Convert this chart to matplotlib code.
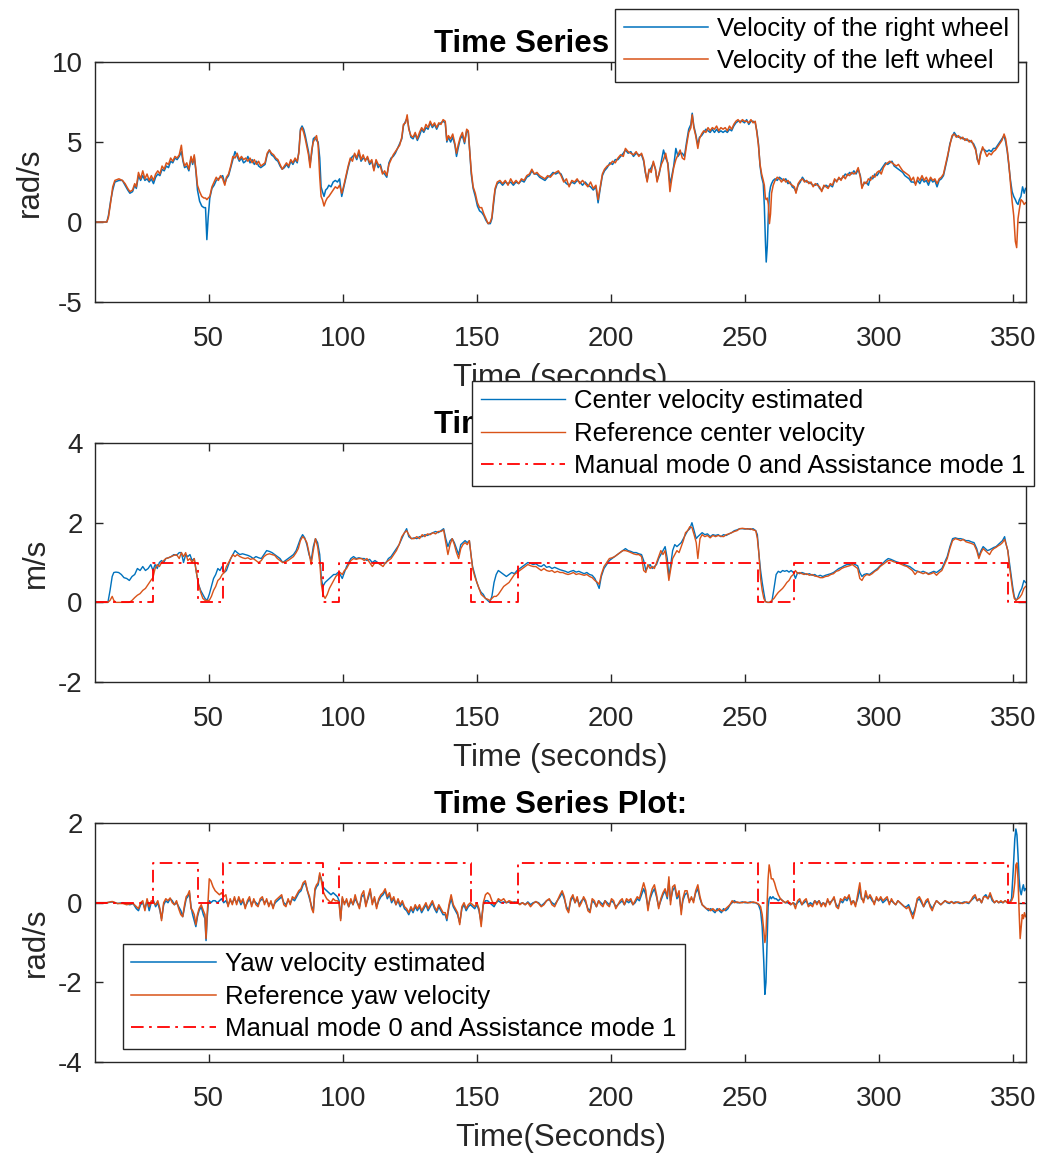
import matplotlib
matplotlib.use('Agg')
import matplotlib.pyplot as plt

plt.rcParams['font.family'] = ['Liberation Sans', 'DejaVu Sans']
plt.rcParams['axes.unicode_minus'] = False

blue = '#0072BD'
orange = '#D95319'
dark = '#262626'

# --- wheel velocities (rad/s) ---
t_wheel = [
    7.6, 12.0, 12.6, 13.4, 14.2, 15.0, 16.5, 17.8, 18.8, 19.8,
    20.6, 21.6, 22.4, 23.0, 23.8, 24.6, 25.4, 26.2, 27.0, 27.8,
    28.6, 29.4, 30.2, 31.0, 31.8, 32.6, 33.4, 34.2, 35.0, 35.8,
    36.6, 37.4, 38.2, 39.0, 39.8, 40.4, 41.0, 41.8, 42.6, 43.4,
    44.0, 44.6, 45.2, 45.8, 46.6, 47.4, 48.2, 48.8, 49.3, 49.8,
    50.4, 51.2, 52.0, 52.8, 53.6, 54.4, 55.2, 56.0, 56.6, 57.4,
    58.2, 59.0, 59.8, 60.6, 61.4, 62.2, 63.0, 63.8, 64.6, 65.4,
    66.2, 67.0, 67.8, 68.6, 69.4, 70.2, 71.0, 71.8, 72.6, 73.4,
    74.2, 75.0, 75.8, 76.6, 77.4, 78.2, 79.0, 79.8, 80.6, 81.4,
    82.2, 83.0, 83.6, 84.2, 84.8, 85.4, 86.0, 86.6, 87.2, 87.8,
    88.4, 89.0, 89.6, 90.2, 90.8, 91.4, 91.9, 92.4, 93.0, 93.6,
    94.2, 94.8, 95.6, 96.4, 97.2, 98.0, 98.8, 99.6, 100.4, 101.2,
    102.0, 102.8, 103.6, 104.4, 105.2, 106.0, 106.8, 107.6, 108.4, 109.2,
    110.0, 110.8, 111.6, 112.4, 113.2, 114.0, 114.8, 115.6, 116.4, 117.2,
    118.0, 118.8, 119.6, 120.4, 121.2, 122.0, 122.6, 123.4, 124.0, 124.6,
    125.4, 126.2, 127.0, 127.8, 128.6, 129.4, 130.2, 131.0, 131.8, 132.6,
    133.4, 134.2, 135.0, 135.8, 136.6, 137.4, 138.2, 138.8, 139.4, 140.2,
    141.0, 141.8, 142.4, 143.0, 143.8, 144.6, 145.4, 146.2, 146.8, 147.3,
    147.9, 148.6, 149.4, 150.2, 151.0, 151.8, 152.6, 153.4, 154.2, 155.0,
    155.6, 156.2, 156.8, 157.6, 158.6, 159.6, 160.6, 161.6, 162.6, 163.6,
    164.6, 165.6, 166.6, 167.6, 168.6, 169.6, 170.5, 171.4, 172.4, 173.4,
    174.4, 175.4, 176.4, 177.4, 178.4, 179.4, 180.4, 181.4, 182.4, 183.4,
    184.4, 185.4, 186.4, 187.4, 188.4, 189.4, 190.4, 191.4, 192.4, 193.4,
    194.4, 195.2, 196.0, 196.8, 197.6, 198.6, 199.6, 200.6, 201.6, 202.6,
    203.6, 204.6, 205.4, 206.4, 207.4, 208.4, 209.4, 210.4, 211.4, 212.2,
    212.8, 213.5, 214.2, 215.0, 215.8, 216.6, 217.2, 218.0, 218.8, 219.6,
    220.4, 221.2, 222.0, 222.6, 223.4, 224.2, 225.0, 225.8, 226.6, 227.4,
    228.2, 229.0, 229.8, 230.3, 230.9, 231.6, 232.4, 233.0, 233.8, 234.6,
    235.4, 236.2, 237.0, 237.8, 238.6, 239.4, 240.2, 241.0, 241.8, 242.6,
    243.4, 244.2, 245.0, 245.8, 246.6, 247.4, 248.2, 249.0, 249.8, 250.6,
    251.4, 252.2, 253.0, 253.8, 254.4, 255.0, 255.6, 256.2, 256.8, 257.2,
    257.6, 257.9, 258.3, 258.7, 259.1, 259.5, 259.9, 260.5, 261.2, 262.0,
    262.8, 263.6, 264.4, 265.2, 266.0, 266.8, 267.6, 268.4, 269.0, 269.8,
    270.6, 271.4, 272.2, 273.0, 273.8, 274.6, 275.4, 276.2, 277.0, 277.8,
    278.6, 279.4, 280.2, 281.0, 281.8, 282.6, 283.4, 284.2, 285.0, 285.8,
    286.6, 287.4, 288.2, 289.0, 289.8, 290.6, 291.4, 292.2, 293.0, 293.6,
    294.4, 295.2, 296.0, 296.8, 297.6, 298.4, 299.2, 300.0, 300.8, 301.6,
    302.4, 303.2, 304.0, 304.8, 305.6, 306.4, 307.2, 308.0, 308.8, 309.6,
    310.4, 311.2, 312.0, 312.8, 313.6, 314.4, 315.2, 316.0, 316.8, 317.6,
    318.4, 319.2, 320.0, 320.8, 321.6, 322.4, 323.2, 324.0, 324.8, 325.6,
    326.4, 327.2, 328.0, 328.8, 329.6, 330.4, 331.2, 332.0, 332.8, 333.6,
    334.4, 335.2, 336.0, 336.6, 337.2, 337.8, 338.6, 339.4, 340.2, 341.0,
    341.8, 342.6, 343.4, 344.2, 345.0, 345.8, 346.6, 347.2, 347.8, 348.4,
    349.0, 349.6, 350.2, 350.8, 351.3, 351.8, 352.3, 352.9, 353.5, 354.1,
    354.6,
]
v_left = [
    0, 0, 0.3, 1.2, 2.2, 2.6, 2.7, 2.6, 2.4, 2.1,
    1.9, 2.0, 2.4, 2.2, 3.1, 2.7, 3.2, 2.7, 3.0, 2.6,
    2.9, 2.6, 3.0, 3.2, 3.0, 3.5, 3.3, 3.7, 3.6, 4.0,
    3.8, 4.1, 4.0, 4.2, 4.8, 3.9, 3.5, 3.7, 3.3, 4.1,
    3.7, 4.2, 3.3, 2.3, 1.9, 1.6, 1.5, 1.5, 1.4, 1.5,
    1.6, 2.2, 2.5, 2.8, 2.6, 2.9, 2.7, 2.3, 2.8, 3.0,
    3.5, 4.1, 4.0, 4.3, 3.9, 4.1, 3.9, 4.0, 3.8, 4.0,
    3.7, 3.9, 3.6, 3.8, 3.5, 3.6, 3.7, 4.3, 4.5, 4.3,
    4.2, 4.0, 3.9, 3.6, 3.3, 3.5, 3.7, 3.5, 3.9, 3.7,
    4.0, 3.8, 4.3, 5.7, 5.9, 5.6, 5.2, 4.7, 4.2, 3.4,
    4.5, 5.0, 5.2, 5.4, 4.8, 2.8, 1.6, 1.4, 1.0, 1.3,
    1.5, 1.6, 1.8, 2.0, 2.2, 2.1, 2.3, 1.8, 2.3, 2.9,
    3.5, 4.0, 3.8, 4.3, 4.0, 4.5, 3.9, 4.2, 3.8, 4.1,
    3.7, 3.9, 3.2, 3.9, 3.6, 3.5, 3.0, 3.2, 2.9, 3.6,
    3.9, 4.2, 4.4, 4.6, 4.8, 5.3, 6.1, 6.2, 6.7, 5.8,
    5.4, 5.3, 5.6, 5.2, 5.6, 5.9, 5.7, 6.1, 5.9, 6.3,
    6.0, 6.2, 5.9, 6.2, 6.1, 6.4, 6.3, 5.1, 5.4, 5.2,
    5.5, 4.9, 4.3, 4.8, 5.3, 5.6, 5.0, 5.8, 5.7, 4.5,
    3.2, 2.2, 1.8, 1.2, 0.9, 0.9, 0.5, 0.2, -0.1, 0.0,
    0.3, 1.3, 2.1, 2.5, 2.6, 2.4, 2.6, 2.3, 2.7, 2.4,
    2.6, 2.4, 2.7, 2.6, 2.9, 3.0, 3.3, 3.0, 3.1, 2.9,
    2.8, 2.7, 2.9, 2.8, 3.0, 3.1, 3.2, 2.9, 2.5, 2.7,
    2.2, 2.6, 2.5, 2.7, 2.4, 2.6, 2.4, 2.2, 2.5, 2.1,
    2.3, 1.4, 2.2, 3.0, 3.3, 3.5, 3.6, 3.8, 3.7, 4.0,
    4.2, 4.1, 4.6, 4.4, 4.3, 4.2, 4.4, 4.1, 4.3, 3.9,
    3.2, 2.5, 3.3, 3.1, 3.8, 3.3, 2.5, 3.1, 3.6, 3.9,
    4.3, 3.6, 1.9, 2.6, 3.4, 3.9, 4.2, 4.5, 4.0, 3.9,
    4.8, 5.6, 5.9, 6.7, 5.9, 5.4, 4.6, 5.2, 5.5, 5.7,
    5.6, 5.9, 5.7, 5.9, 5.8, 6.0, 5.7, 5.9, 5.8, 5.9,
    5.7, 6.0, 5.8, 6.1, 6.3, 6.4, 6.2, 6.4, 6.3, 6.3,
    6.2, 6.4, 6.2, 6.3, 5.6, 4.8, 3.6, 3.0, 2.6, 2.3,
    1.5, 1.4, 1.5, 1.1, -0.1, 0.5, 1.8, 2.3, 2.6, 2.8,
    2.7, 2.5, 2.7, 2.5, 2.6, 2.4, 2.3, 2.2, 1.8, 2.4,
    2.6, 2.7, 2.5, 2.6, 2.4, 2.5, 2.2, 2.4, 2.3, 2.2,
    1.9, 2.3, 2.2, 2.1, 2.4, 2.3, 2.7, 2.5, 2.8, 2.6,
    2.9, 2.7, 3.0, 2.9, 3.1, 3.0, 3.1, 3.4, 2.8, 2.1,
    2.5, 2.4, 2.7, 2.6, 2.9, 2.8, 3.1, 3.2, 3.0, 3.4,
    3.6, 3.7, 3.8, 3.7, 3.6, 3.5, 3.6, 3.4, 3.2, 3.1,
    3.0, 2.9, 2.6, 2.8, 2.3, 2.8, 2.6, 2.9, 2.6, 2.8,
    2.5, 2.8, 2.6, 2.7, 2.4, 2.7, 2.8, 3.0, 3.6, 4.2,
    4.8, 5.4, 5.5, 5.3, 5.4, 5.2, 5.3, 5.1, 5.2, 5.0,
    5.1, 4.8, 4.5, 4.0, 3.6, 4.2, 4.7, 4.4, 4.1, 4.3,
    4.2, 4.4, 4.5, 4.7, 4.9, 5.1, 5.5, 5.2, 4.5, 3.6,
    2.4, 1.3, 0.4, -1.2, -1.6, 0.2, 0.8, 1.4, 1.3, 1.1,
    1.2,
]
v_right = [
    0, 0, 0.4, 1.3, 2.0, 2.5, 2.6, 2.6, 2.3, 2.0,
    1.8, 1.9, 2.3, 2.1, 2.9, 2.6, 2.9, 2.6, 2.7, 2.5,
    2.7, 2.4, 2.8, 3.0, 2.9, 3.3, 3.2, 3.5, 3.4, 3.8,
    3.7, 4.0, 3.9, 4.1, 4.4, 3.8, 3.4, 3.5, 3.2, 4.0,
    3.6, 4.1, 3.2, 2.0, 1.3, 1.0, 0.9, 0.9, -1.1, 0.3,
    1.5, 2.1, 2.3, 2.6, 2.7, 2.8, 2.9, 2.4, 2.7, 2.9,
    3.4, 3.9, 4.4, 4.1, 3.8, 4.0, 3.7, 3.8, 4.1, 3.7,
    3.9, 3.6, 3.8, 3.5, 3.4, 3.5, 3.6, 4.2, 4.5, 4.2,
    4.1, 3.9, 3.8, 3.5, 3.3, 3.4, 3.6, 3.4, 3.8, 3.6,
    3.9, 3.7, 4.4, 5.8, 6.0, 5.8, 5.4, 4.9, 4.4, 3.6,
    4.3, 5.2, 5.3, 5.1, 5.0, 4.0, 2.2, 1.9, 1.6, 2.0,
    2.1, 2.3, 2.2, 2.5, 2.6, 2.5, 2.7, 1.6, 2.2, 2.8,
    3.4, 3.9, 4.1, 4.2, 3.9, 4.3, 3.8, 4.0, 3.9, 4.0,
    3.6, 3.8, 3.3, 3.8, 3.4, 3.6, 3.1, 3.0, 2.8, 3.7,
    4.0, 4.1, 4.3, 4.6, 4.9, 5.2, 6.0, 6.3, 6.5, 5.9,
    5.3, 5.2, 5.5, 5.1, 5.4, 5.8, 5.6, 5.9, 5.8, 6.2,
    5.9, 6.1, 5.8, 6.1, 6.2, 6.3, 6.2, 5.0, 5.3, 5.0,
    5.3, 4.8, 4.1, 4.6, 5.2, 5.4, 4.9, 5.7, 5.6, 4.5,
    3.0, 2.1, 1.6, 1.0, 0.7, 0.6, 0.4, 0.1, -0.1, -0.1,
    0.2, 1.1, 2.0, 2.4, 2.5, 2.3, 2.5, 2.4, 2.5, 2.3,
    2.5, 2.4, 2.6, 2.5, 2.8, 2.9, 3.2, 3.0, 3.0, 2.8,
    2.7, 2.6, 2.8, 2.9, 3.1, 3.0, 3.1, 3.0, 2.6, 2.4,
    2.3, 2.5, 2.4, 2.6, 2.5, 2.3, 2.5, 2.3, 2.2, 2.0,
    2.2, 1.2, 2.1, 2.9, 3.2, 3.4, 3.7, 3.6, 3.9, 3.9,
    4.1, 4.3, 4.5, 4.3, 4.4, 4.1, 4.3, 4.2, 4.2, 3.8,
    3.1, 2.6, 3.2, 3.4, 3.7, 3.3, 2.6, 3.0, 3.8, 4.5,
    4.0, 3.7, 2.4, 2.8, 3.5, 4.6, 4.1, 4.3, 4.3, 4.1,
    5.0, 5.8, 6.1, 6.8, 6.0, 5.5, 4.8, 5.3, 5.4, 5.6,
    5.8, 5.7, 5.6, 5.8, 5.6, 5.8, 5.6, 5.7, 5.6, 5.7,
    5.6, 5.8, 5.7, 6.0, 6.2, 6.3, 6.3, 6.3, 6.2, 6.4,
    6.1, 6.3, 6.3, 6.2, 5.7, 4.9, 3.5, 2.8, 2.4, 1.0,
    -1.2, -2.5, -1.5, 0.5, 1.8, 2.2, 2.4, 2.6, 2.7, 2.6,
    2.8, 2.7, 2.6, 2.7, 2.4, 2.5, 2.2, 2.1, 1.9, 2.3,
    2.5, 2.8, 2.6, 2.5, 2.5, 2.4, 2.3, 2.3, 2.4, 2.1,
    2.0, 2.2, 2.3, 2.2, 2.3, 2.2, 2.6, 2.6, 2.7, 2.7,
    2.8, 3.0, 2.9, 3.1, 3.0, 3.2, 3.0, 3.3, 2.9, 2.2,
    2.4, 2.5, 2.3, 2.8, 2.7, 3.0, 2.9, 3.1, 3.3, 3.5,
    3.7, 3.6, 3.7, 3.8, 3.5, 3.4, 3.3, 3.2, 3.1, 2.9,
    2.8, 2.7, 2.5, 2.5, 2.4, 2.6, 2.4, 2.7, 2.5, 2.6,
    2.3, 2.7, 2.5, 2.6, 2.2, 2.6, 2.7, 2.9, 3.5, 4.1,
    4.9, 5.3, 5.6, 5.4, 5.3, 5.3, 5.2, 5.2, 5.1, 5.1,
    5.0, 4.9, 4.6, 3.9, 3.7, 4.3, 4.6, 4.5, 4.4, 4.5,
    4.4, 4.6, 4.6, 4.8, 5.0, 5.2, 5.4, 5.0, 4.4, 3.5,
    2.6, 1.9, 1.6, 1.4, 1.2, 1.1, 1.4, 1.6, 2.2, 1.8,
    2.1,
]

# --- center velocity (m/s) ---
t_center = [
    7.6, 12.4, 13.2, 14.0, 14.6, 15.4, 16.4, 17.4, 18.4, 19.4,
    20.4, 21.4, 22.4, 23.4, 24.4, 25.4, 26.4, 27.4, 28.4, 29.2,
    30.0, 30.8, 31.6, 32.4, 33.2, 34.0, 35.0, 36.0, 37.0, 38.0,
    39.0, 39.8, 40.6, 41.4, 42.2, 43.0, 43.8, 44.6, 45.4, 46.2,
    47.0, 47.8, 48.6, 49.4, 50.2, 51.0, 51.8, 52.6, 53.4, 54.2,
    55.0, 55.8, 56.6, 57.4, 58.2, 59.0, 59.8, 60.6, 61.6, 62.6,
    63.6, 64.6, 65.6, 66.6, 67.6, 68.6, 69.6, 70.6, 71.6, 72.6,
    73.6, 74.6, 75.6, 76.6, 77.6, 78.6, 79.6, 80.6, 81.6, 82.6,
    83.4, 84.2, 85.0, 85.8, 86.6, 87.4, 88.2, 89.0, 89.8, 90.6,
    91.4, 92.0, 92.6, 93.4, 94.2, 95.0, 95.8, 96.6, 97.4, 98.2,
    99.0, 99.8, 100.6, 101.4, 102.2, 103.0, 104.0, 105.0, 106.0, 107.0,
    108.0, 109.0, 110.0, 111.0, 112.0, 113.0, 114.0, 115.0, 116.0, 117.0,
    118.0, 119.0, 120.0, 121.0, 122.0, 123.0, 123.8, 124.6, 125.6, 126.6,
    127.6, 128.6, 129.6, 130.6, 131.6, 132.6, 133.6, 134.6, 135.6, 136.6,
    137.6, 138.4, 139.2, 140.0, 140.8, 141.6, 142.4, 143.2, 144.0, 144.8,
    145.6, 146.4, 147.2, 147.8, 148.4, 149.2, 150.0, 150.8, 151.6, 152.4,
    153.2, 154.0, 154.8, 155.6, 156.4, 157.2, 158.0, 159.0, 160.0, 161.0,
    162.0, 163.0, 164.0, 165.0, 166.0, 167.0, 168.0, 169.0, 170.0, 171.0,
    172.0, 173.0, 174.0, 175.0, 176.0, 177.0, 178.0, 179.0, 180.0, 181.0,
    182.0, 183.0, 184.0, 185.0, 186.0, 187.0, 188.0, 189.0, 190.0, 191.0,
    192.0, 193.0, 194.0, 195.0, 195.6, 196.4, 197.4, 198.4, 199.4, 200.4,
    201.4, 202.4, 203.4, 204.4, 205.4, 206.4, 207.4, 208.4, 209.4, 210.4,
    211.4, 212.2, 213.0, 213.8, 214.6, 215.4, 216.2, 217.0, 217.8, 218.6,
    219.4, 220.2, 221.0, 221.6, 222.2, 223.0, 223.8, 224.6, 225.4, 226.2,
    227.0, 227.8, 228.6, 229.4, 230.2, 231.0, 231.8, 232.4, 233.2, 234.0,
    235.0, 236.0, 237.0, 238.0, 239.0, 240.0, 241.0, 242.0, 243.0, 244.0,
    245.0, 246.0, 247.0, 248.0, 249.0, 250.0, 251.0, 252.0, 253.0, 254.0,
    254.6, 255.2, 255.8, 256.4, 257.0, 257.6, 258.4, 259.2, 260.0, 260.8,
    261.6, 262.4, 263.2, 264.0, 264.8, 265.6, 266.4, 267.2, 268.0, 268.8,
    269.6, 270.4, 271.2, 272.0, 273.0, 274.0, 275.0, 276.0, 277.0, 278.0,
    279.0, 280.0, 281.0, 282.0, 283.0, 284.0, 285.0, 286.0, 287.0, 288.0,
    289.0, 290.0, 291.0, 292.0, 292.8, 293.6, 294.4, 295.4, 296.4, 297.4,
    298.4, 299.4, 300.4, 301.4, 302.4, 303.4, 304.4, 305.4, 306.4, 307.4,
    308.4, 309.4, 310.4, 311.4, 312.4, 313.4, 314.4, 315.4, 316.4, 317.4,
    318.4, 319.4, 320.4, 321.4, 322.4, 323.4, 324.4, 325.4, 326.4, 327.4,
    328.4, 329.4, 330.4, 331.4, 332.4, 333.4, 334.4, 335.4, 336.4, 337.2,
    338.0, 338.8, 339.6, 340.4, 341.2, 342.0, 342.8, 343.6, 344.4, 345.2,
    346.0, 346.8, 347.4, 348.0, 348.6, 349.2, 349.8, 350.4, 351.0, 351.6,
    352.4, 353.2, 354.0, 354.6,
]
v_center_est = [
    0, 0, 0.3, 0.65, 0.75, 0.76, 0.75, 0.7, 0.62, 0.6,
    0.55, 0.65, 0.7, 0.85, 0.8, 0.9, 0.8, 0.85, 0.95, 0.8,
    0.95, 0.85, 1.0, 1.05, 1.0, 1.1, 1.12, 1.15, 1.2, 1.18,
    1.25, 1.25, 1.0, 1.2, 1.15, 1.2, 1.05, 1.1, 0.75, 0.45,
    0.3, 0.2, 0.1, 0.05, 0.2, 0.4, 0.6, 0.7, 0.85, 0.8,
    0.9, 0.75, 0.8, 0.95, 1.1, 1.2, 1.3, 1.25, 1.2, 1.22,
    1.2, 1.18, 1.15, 1.1, 1.15, 1.12, 1.1, 1.2, 1.3, 1.28,
    1.25, 1.2, 1.15, 1.1, 1.0, 1.05, 1.1, 1.15, 1.2, 1.3,
    1.45, 1.6, 1.7, 1.62, 1.45, 1.2, 1.05, 1.4, 1.6, 1.5,
    1.2, 0.6, 0.4, 0.5, 0.55, 0.6, 0.65, 0.7, 0.7, 0.75,
    0.7, 0.6, 0.75, 0.9, 1.0, 1.1, 1.15, 1.1, 1.12, 1.1,
    1.1, 1.05, 1.08, 1.0, 1.05, 1.0, 0.95, 1.0, 0.98, 1.1,
    1.15, 1.25, 1.35, 1.45, 1.6, 1.75, 1.85, 1.65, 1.6, 1.62,
    1.6, 1.65, 1.65, 1.7, 1.68, 1.72, 1.75, 1.78, 1.75, 1.8,
    1.85, 1.6, 1.4, 1.55, 1.6, 1.5, 1.35, 1.2, 1.45, 1.5,
    1.55, 1.5, 1.55, 1.2, 0.9, 0.7, 0.5, 0.35, 0.25, 0.2,
    0.1, 0.05, 0.0, 0.15, 0.5, 0.7, 0.8, 0.75, 0.7, 0.65,
    0.7, 0.75, 0.72, 0.8, 0.85, 0.9, 0.95, 1.0, 0.98, 0.95,
    0.97, 0.92, 0.9, 0.95, 0.88, 0.9, 0.85, 0.88, 0.85, 0.82,
    0.8, 0.78, 0.75, 0.78, 0.8, 0.76, 0.78, 0.75, 0.72, 0.75,
    0.7, 0.68, 0.6, 0.45, 0.35, 0.65, 0.85, 0.95, 1.05, 1.1,
    1.15, 1.2, 1.25, 1.3, 1.35, 1.3, 1.28, 1.25, 1.25, 1.22,
    1.2, 1.05, 0.8, 0.9, 0.95, 0.85, 0.9, 0.95, 1.1, 1.2,
    1.3, 1.4, 1.1, 0.65, 0.9, 1.3, 1.45, 1.4, 1.45, 1.5,
    1.6, 1.7, 1.8, 1.85, 2.0, 1.8, 1.6, 1.65, 1.7, 1.75,
    1.7, 1.72, 1.65, 1.7, 1.68, 1.7, 1.65, 1.7, 1.68, 1.72,
    1.75, 1.8, 1.82, 1.85, 1.85, 1.84, 1.85, 1.83, 1.85, 1.8,
    1.7, 1.2, 0.8, 0.5, 0.25, 0.02, 0.0, 0.0, 0.02, 0.35,
    0.7, 0.78, 0.75, 0.8, 0.78, 0.8, 0.76, 0.8, 0.75, 0.6,
    0.75, 0.72, 0.75, 0.73, 0.7, 0.72, 0.68, 0.7, 0.65, 0.68,
    0.65, 0.68, 0.7, 0.72, 0.75, 0.8, 0.85, 0.88, 0.92, 0.95,
    0.95, 0.98, 0.95, 0.92, 0.75, 0.65, 0.7, 0.72, 0.7, 0.75,
    0.8, 0.85, 0.92, 0.98, 1.05, 1.1, 1.08, 1.05, 1.02, 1.0,
    0.98, 0.95, 0.92, 0.9, 0.85, 0.8, 0.78, 0.75, 0.78, 0.75,
    0.72, 0.75, 0.78, 0.75, 0.8, 0.85, 1.0, 1.15, 1.4, 1.6,
    1.62, 1.6, 1.6, 1.58, 1.55, 1.55, 1.52, 1.5, 1.35, 1.15,
    1.3, 1.4, 1.35, 1.3, 1.32, 1.35, 1.38, 1.4, 1.45, 1.5,
    1.55, 1.65, 1.45, 1.3, 1.0, 0.7, 0.4, 0.15, 0.05, 0.1,
    0.25, 0.35, 0.55, 0.5,
]
v_center_ref = [
    0, 0, 0.05, 0.15, 0.05, 0, 0, 0, 0, 0,
    0, 0.05, 0.12, 0.18, 0.22, 0.3, 0.35, 0.45, 0.55, 0.62,
    0.85, 0.95, 0.9, 1.0, 1.05, 1.1, 1.12, 1.15, 1.18, 1.2,
    1.1, 1.25, 1.15, 1.25, 1.05, 1.1, 1.0, 1.1, 0.75, 0.45,
    0.25, 0.1, 0.05, 0.05, 0.05, 0.15, 0.3, 0.4, 0.55, 0.6,
    0.7, 0.75, 0.9, 1.0, 1.1, 1.2, 1.15, 1.2, 1.15, 1.12,
    1.1, 1.12, 1.08, 1.1, 1.05, 1.0, 1.05, 1.15, 1.2, 1.22,
    1.2, 1.18, 1.1, 1.05, 1.0, 1.02, 1.05, 1.1, 1.15, 1.25,
    1.35, 1.55, 1.65, 1.6, 1.5, 1.25, 0.95, 1.3, 1.6, 1.4,
    1.0, 0.45, 0.2, 0.1, 0.2, 0.35, 0.45, 0.55, 0.65, 0.7,
    0.75, 0.7, 0.8, 0.85, 0.95, 1.05, 1.1, 1.08, 1.1, 1.1,
    1.05, 1.1, 1.0, 0.9, 1.0, 1.0, 0.95, 0.9, 1.0, 1.05,
    1.1, 1.2, 1.3, 1.45, 1.65, 1.75, 1.8, 1.7, 1.6, 1.6,
    1.65, 1.6, 1.7, 1.65, 1.72, 1.7, 1.75, 1.72, 1.78, 1.78,
    1.82, 1.5, 1.2, 1.45, 1.6, 1.45, 1.25, 1.1, 1.35, 1.45,
    1.5, 1.45, 1.55, 1.2, 0.85, 0.65, 0.5, 0.35, 0.2, 0.15,
    0.1, 0.08, 0.05, 0.1, 0.15, 0.15, 0.2, 0.3, 0.4, 0.45,
    0.5, 0.6, 0.7, 0.75, 0.8, 0.85, 0.9, 0.95, 0.92, 0.9,
    0.9, 0.85, 0.8, 0.85, 0.8, 0.78, 0.8, 0.75, 0.78, 0.75,
    0.75, 0.72, 0.7, 0.72, 0.75, 0.7, 0.72, 0.7, 0.68, 0.7,
    0.65, 0.62, 0.55, 0.5, 0.45, 0.7, 0.9, 1.0, 1.1, 1.12,
    1.15, 1.2, 1.25, 1.3, 1.3, 1.28, 1.25, 1.22, 1.2, 1.2,
    1.15, 0.8, 0.75, 0.95, 0.85, 0.9, 0.85, 1.0, 1.15, 1.3,
    1.2, 1.3, 0.9, 0.55, 0.8, 1.1, 1.2, 1.3, 1.25, 1.4,
    1.55, 1.75, 1.8, 1.9, 1.88, 1.7, 1.5, 1.1, 1.6, 1.7,
    1.65, 1.68, 1.62, 1.68, 1.65, 1.68, 1.66, 1.65, 1.7, 1.72,
    1.75, 1.78, 1.8, 1.85, 1.86, 1.85, 1.84, 1.85, 1.82, 1.8,
    1.6, 1.2, 0.6, 0.3, 0.1, 0.02, 0.0, 0.0, 0.05, 0.1,
    0.18, 0.25, 0.3, 0.35, 0.42, 0.5, 0.55, 0.65, 0.7, 0.8,
    0.72, 0.75, 0.72, 0.7, 0.72, 0.68, 0.7, 0.66, 0.65, 0.62,
    0.62, 0.65, 0.66, 0.7, 0.72, 0.78, 0.8, 0.85, 0.88, 0.9,
    0.92, 0.95, 0.9, 0.85, 0.6, 0.55, 0.65, 0.7, 0.68, 0.72,
    0.78, 0.82, 0.9, 0.95, 1.0, 1.05, 1.05, 1.02, 1.0, 0.98,
    0.95, 0.92, 0.9, 0.85, 0.8, 0.7, 0.78, 0.75, 0.72, 0.75,
    0.7, 0.72, 0.75, 0.68, 0.75, 0.8, 0.95, 1.1, 1.35, 1.55,
    1.6, 1.58, 1.55, 1.58, 1.52, 1.5, 1.48, 1.45, 1.3, 1.1,
    1.25, 1.35, 1.3, 1.25, 1.2, 1.3, 1.35, 1.38, 1.42, 1.45,
    1.5, 1.58, 1.45, 1.3, 0.9, 0.6, 0.3, 0.1, 0.05, 0.08,
    0.12, 0.2, 0.35, 0.4,
]

# --- yaw velocity (rad/s) ---
t_yaw = [
    7.6, 12.0, 14.0, 16.0, 18.0, 19.4, 20.6, 21.8, 23.0, 23.8,
    24.6, 25.4, 26.2, 27.0, 27.8, 28.6, 29.4, 30.2, 31.0, 31.8,
    32.4, 33.2, 34.0, 34.8, 35.6, 36.4, 37.2, 38.0, 38.8, 39.6,
    40.3, 41.0, 41.6, 42.2, 42.8, 43.4, 44.0, 44.6, 45.2, 45.8,
    46.4, 47.2, 48.0, 48.6, 49.0, 49.4, 49.8, 50.2, 50.8, 51.6,
    52.4, 53.2, 54.0, 54.8, 55.6, 56.4, 57.2, 58.0, 58.8, 59.6,
    60.4, 61.2, 62.0, 62.8, 63.6, 64.4, 65.2, 66.0, 66.8, 67.6,
    68.4, 69.2, 70.0, 70.8, 71.6, 72.4, 73.2, 74.0, 74.8, 75.6,
    76.4, 77.2, 78.0, 78.8, 79.6, 80.4, 81.2, 82.0, 82.8, 83.6,
    84.4, 85.2, 86.0, 86.8, 87.6, 88.4, 89.0, 89.6, 90.2, 90.8,
    91.4, 92.0, 92.6, 93.2, 94.0, 94.8, 95.6, 96.4, 97.2, 98.0,
    98.6, 99.2, 99.8, 100.6, 101.4, 102.2, 103.0, 103.8, 104.6, 105.4,
    106.2, 107.0, 107.8, 108.6, 109.4, 110.2, 111.0, 111.8, 112.6, 113.4,
    114.2, 115.0, 115.8, 116.6, 117.4, 118.2, 119.0, 119.8, 120.6, 121.4,
    122.2, 123.0, 123.8, 124.6, 125.4, 126.2, 127.0, 127.8, 128.6, 129.4,
    130.2, 131.0, 131.8, 132.6, 133.4, 134.2, 135.0, 135.8, 136.6, 137.4,
    138.2, 138.8, 139.6, 140.4, 141.2, 142.0, 142.8, 143.6, 144.4, 145.2,
    146.0, 146.8, 147.6, 148.4, 149.2, 150.0, 150.8, 151.6, 152.4, 153.2,
    154.0, 154.8, 155.6, 156.4, 157.2, 158.0, 159.0, 160.0, 161.0, 162.0,
    163.0, 164.0, 165.0, 166.0, 167.0, 168.0, 169.0, 170.0, 171.0, 172.0,
    173.0, 174.0, 175.0, 176.0, 177.0, 178.0, 179.0, 180.0, 181.0, 181.8,
    182.6, 183.4, 184.2, 185.0, 185.8, 186.6, 187.4, 188.2, 189.0, 189.8,
    190.6, 191.4, 192.2, 193.0, 193.8, 194.6, 195.4, 196.2, 197.0, 197.8,
    198.6, 199.4, 200.2, 201.0, 201.8, 202.6, 203.4, 204.2, 205.0, 205.8,
    206.6, 207.4, 208.2, 209.0, 209.8, 210.6, 211.4, 212.2, 213.0, 213.8,
    214.6, 215.4, 216.2, 217.0, 217.8, 218.6, 219.4, 220.2, 221.0, 221.6,
    222.2, 223.0, 223.8, 224.6, 225.4, 226.2, 226.8, 227.6, 228.4, 229.2,
    230.0, 230.8, 231.6, 232.4, 233.2, 234.0, 234.8, 235.6, 236.4, 237.2,
    238.0, 238.8, 239.6, 240.4, 241.2, 242.0, 242.8, 243.6, 244.4, 245.2,
    246.0, 247.0, 248.0, 249.0, 250.0, 251.0, 252.0, 253.0, 254.0, 255.0,
    255.8, 256.4, 257.0, 257.4, 257.8, 258.2, 258.6, 259.0, 259.4, 259.8,
    260.4, 261.0, 261.6, 262.4, 263.2, 264.0, 265.0, 266.0, 267.0, 268.0,
    268.8, 269.6, 270.4, 271.2, 272.0, 272.8, 273.6, 274.4, 275.2, 276.0,
    276.8, 277.6, 278.4, 279.2, 280.0, 280.8, 281.6, 282.4, 283.2, 284.0,
    284.8, 285.6, 286.4, 287.2, 288.0, 288.8, 289.6, 290.4, 291.2, 292.0,
    292.8, 293.4, 294.2, 295.0, 295.8, 296.6, 297.4, 298.2, 299.0, 299.8,
    300.6, 301.4, 302.2, 303.0, 303.8, 304.6, 305.4, 306.2, 307.0, 307.8,
    308.6, 309.4, 310.2, 311.0, 311.8, 312.6, 313.4, 314.2, 315.0, 315.8,
    316.6, 317.4, 318.2, 319.0, 319.8, 320.6, 321.4, 322.2, 323.0, 323.8,
    324.6, 325.4, 326.2, 327.0, 327.8, 328.6, 329.4, 330.2, 331.0, 331.8,
    332.6, 333.4, 334.2, 335.0, 335.8, 336.6, 337.4, 338.2, 339.0, 339.8,
    340.6, 341.4, 342.2, 343.0, 343.8, 344.6, 345.4, 346.2, 347.0, 347.8,
    348.6, 349.4, 350.0, 350.6, 351.0, 351.4, 351.8, 352.2, 352.6, 353.0,
    353.4, 353.8, 354.2, 354.6,
]
w_yaw_est = [
    0, 0, 0.02, -0.02, 0.0, -0.03, -0.05, -0.02, -0.15, -0.2,
    -0.05, 0.0, -0.15, 0.05, -0.2, 0.02, 0.05, -0.1, 0.0, -0.2,
    -0.4, -0.05, 0.05, 0.0, 0.1, 0.05, -0.05, 0.0, -0.1, -0.2,
    -0.35, -0.1, 0.1, 0.15, 0.25, -0.1, -0.3, -0.45, -0.6, -0.35,
    -0.2, -0.1, -0.3, -0.4, -0.95, -0.4, -0.05, 0.05, 0.0, 0.05,
    0.05, 0.0, 0.05, 0.1, 0.0, 0.05, -0.05, 0.05, 0.0, 0.1,
    0.0, 0.1, -0.05, 0.05, -0.1, 0.0, 0.1, -0.05, 0.05, 0.0,
    -0.05, 0.05, 0.1, 0.0, 0.05, -0.05, 0.0, -0.1, 0.0, 0.05,
    0.1, 0.15, 0.0, -0.05, 0.05, 0.0, 0.1, 0.05, 0.15, 0.25,
    0.3, 0.45, 0.5, 0.3, 0.1, -0.1, -0.2, 0.3, 0.4, 0.45,
    0.7, 0.6, 0.4, 0.35, 0.3, 0.25, 0.2, 0.25, 0.2, 0.15,
    0.05, -0.4, 0.1, 0.0, 0.05, -0.1, 0.05, -0.05, 0.1, 0.0,
    -0.1, 0.15, 0.2, -0.05, 0.1, 0.3, 0.0, 0.1, -0.1, 0.05,
    0.15, 0.2, 0.3, 0.1, 0.2, 0.0, 0.1, -0.05, 0.05, -0.1,
    0.0, -0.15, -0.2, -0.3, -0.15, -0.25, -0.1, -0.2, -0.1, -0.25,
    -0.15, -0.05, -0.2, -0.1, 0.0, -0.15, -0.25, -0.1, -0.2, -0.3,
    -0.3, -0.45, -0.1, 0.1, -0.1, -0.2, -0.3, -0.5, -0.15, -0.05,
    -0.2, -0.1, -0.05, -0.1, -0.15, -0.05, -0.2, -0.5, -0.05, 0.05,
    0.05, 0.0, -0.05, -0.1, 0.0, 0.05, 0.0, 0.02, 0.0, 0.02,
    0.0, 0.02, 0.0, -0.03, 0.0, -0.05, 0.02, -0.05, 0.0, 0.02,
    0.0, -0.08, -0.02, 0.05, 0.08, 0.0, -0.05, 0.05, 0.15, 0.25,
    0.1, -0.1, -0.2, 0.05, 0.15, 0.0, 0.1, -0.05, 0.05, 0.1,
    0.0, -0.15, -0.2, 0.05, 0.0, -0.1, 0.05, 0.0, -0.05, 0.05,
    0.0, -0.05, 0.05, 0.0, -0.1, -0.05, 0.0, 0.05, -0.05, 0.05,
    0.0, 0.05, -0.05, 0.0, 0.1, 0.05, 0.2, 0.35, 0.2, -0.1,
    0.1, 0.25, 0.35, 0.15, -0.1, 0.05, 0.2, 0.3, 0.1, 0.55,
    0.05, 0.3, 0.4, 0.1, 0.2, -0.2, 0.05, 0.2, 0.25, 0.05,
    0.1, 0.05, 0.25, 0.35, 0.1, -0.05, -0.1, -0.15, -0.2, -0.15,
    -0.2, -0.25, -0.15, -0.2, -0.25, -0.15, -0.2, -0.15, -0.05, 0.0,
    0.05, 0.0, 0.0, 0.02, 0.0, 0.0, 0.02, 0.0, 0.0, -0.05,
    -0.2, -0.6, -1.5, -2.3, -2.0, -1.0, -0.1, 0.1, 0.15, 0.1,
    0.15, 0.1, 0.1, 0.05, 0.1, 0.05, 0.0, 0.0, -0.05, 0.0,
    -0.05, 0.0, 0.05, -0.05, 0.0, 0.05, -0.05, 0.0, -0.05, 0.05,
    0.0, 0.05, -0.05, 0.0, -0.05, 0.05, 0.0, 0.05, 0.1, -0.05,
    -0.1, 0.05, 0.0, 0.1, 0.05, 0.15, 0.0, 0.05, -0.05, 0.1,
    0.35, 0.1, 0.05, 0.2, 0.1, 0.15, 0.05, 0.0, 0.1, 0.05,
    0.1, 0.0, 0.05, 0.1, 0.0, 0.05, 0.0, -0.05, 0.05, 0.0,
    -0.05, -0.1, -0.1, -0.05, -0.2, -0.3, -0.15, 0.05, 0.1, 0.0,
    -0.1, 0.0, 0.05, -0.05, -0.15, -0.05, 0.05, 0.0, -0.05, 0.0,
    0.05, 0.0, -0.02, 0.02, 0.0, 0.02, 0.0, -0.02, 0.0, 0.02,
    0.0, -0.02, 0.05, 0.1, 0.15, 0.05, 0.1, 0.0, 0.15, 0.2,
    0.1, 0.2, 0.05, 0.0, 0.05, 0.0, 0.02, 0.0, 0.05, 0.0,
    0.0, 0.1, 0.8, 1.6, 1.85, 1.7, 1.2, 0.6, 0.3, 0.2,
    0.35, 0.45, 0.3, 0.35,
]
w_yaw_ref = [
    0, 0, 0.03, -0.02, -0.02, -0.05, -0.03, -0.02, -0.1, -0.15,
    0.0, 0.05, -0.2, 0.1, -0.1, 0.05, 0.0, -0.05, 0.05, -0.15,
    -0.45, 0.0, 0.1, 0.05, 0.12, 0.0, -0.05, 0.05, -0.15, -0.3,
    -0.35, -0.05, 0.15, 0.2, 0.3, -0.15, -0.2, -0.3, -0.55, -0.3,
    -0.15, -0.05, -0.2, -0.3, -0.9, -0.3, 0.1, 0.6, 0.55, 0.4,
    0.3, 0.25, 0.2, 0.25, 0.15, 0.2, -0.1, 0.1, -0.05, 0.15,
    -0.05, 0.15, 0.0, 0.1, -0.15, 0.05, 0.15, -0.1, 0.1, -0.05,
    -0.1, 0.1, 0.15, -0.05, 0.1, -0.1, 0.05, -0.15, 0.05, 0.1,
    0.15, 0.2, -0.05, -0.1, 0.1, -0.05, 0.15, 0.1, 0.2, 0.3,
    0.35, 0.5, 0.55, 0.3, 0.15, -0.15, -0.25, 0.35, 0.45, 0.5,
    0.75, 0.55, 0.3, 0.2, 0.1, 0.05, 0.0, 0.1, 0.05, 0.05,
    0.0, -0.45, 0.15, -0.05, 0.1, -0.1, 0.1, -0.05, 0.2, 0.0,
    -0.15, 0.2, 0.3, -0.1, 0.15, 0.35, -0.05, 0.15, -0.15, 0.1,
    0.2, 0.25, 0.35, 0.15, 0.25, 0.05, 0.15, -0.05, 0.1, -0.05,
    0.05, -0.1, -0.15, -0.25, -0.1, -0.2, -0.05, -0.15, -0.05, -0.2,
    -0.1, 0.0, -0.15, -0.05, 0.05, -0.1, -0.2, -0.05, -0.15, -0.25,
    -0.25, -0.4, -0.05, 0.2, -0.05, -0.15, -0.25, -0.55, -0.1, 0.0,
    -0.15, -0.05, 0.0, -0.05, -0.1, 0.0, -0.15, -0.6, 0.0, 0.2,
    0.25, 0.2, 0.05, -0.05, 0.0, 0.1, 0.05, 0.1, 0.0, 0.05,
    0.02, 0.0, 0.02, -0.05, 0.0, -0.05, 0.0, -0.1, -0.02, 0.03,
    -0.02, -0.1, -0.05, 0.05, 0.1, -0.05, -0.1, 0.05, 0.2, 0.3,
    0.15, -0.15, -0.25, 0.1, 0.2, 0.0, 0.15, -0.1, 0.0, 0.15,
    0.05, -0.2, -0.25, 0.1, 0.05, -0.1, 0.05, -0.05, -0.1, 0.05,
    -0.05, -0.1, 0.1, 0.05, -0.15, -0.05, 0.05, 0.1, -0.05, 0.1,
    0.05, 0.1, -0.05, 0.05, 0.15, 0.1, 0.3, 0.5, 0.3, -0.2,
    0.15, 0.35, 0.45, 0.2, -0.15, 0.1, 0.25, 0.35, 0.15, 0.65,
    -0.05, 0.4, 0.45, 0.15, 0.3, -0.3, 0.1, 0.3, 0.3, 0.0,
    0.15, 0.0, 0.3, 0.45, 0.15, -0.05, -0.1, -0.15, -0.15, -0.2,
    -0.15, -0.2, -0.2, -0.15, -0.2, -0.2, -0.15, -0.1, -0.05, 0.05,
    0.0, 0.02, 0.0, 0.0, 0.02, 0.0, 0.0, 0.02, 0.0, -0.03,
    -0.1, -0.3, -0.7, -1.0, -0.8, -0.1, 0.6, 0.95, 0.8, 0.6,
    0.6, 0.5, 0.35, 0.2, 0.1, 0.05, 0.0, 0.05, -0.05, 0.0,
    -0.15, 0.05, 0.1, -0.05, 0.05, 0.1, -0.1, -0.05, -0.1, 0.05,
    -0.05, 0.05, -0.1, 0.0, -0.1, 0.1, -0.05, 0.05, 0.15, -0.1,
    -0.15, 0.1, 0.05, 0.15, 0.1, 0.2, -0.05, 0.05, -0.1, 0.2,
    0.5, 0.15, 0.0, 0.3, 0.1, 0.2, 0.1, -0.05, 0.15, 0.05,
    0.15, 0.05, 0.1, 0.15, -0.05, 0.1, 0.0, -0.05, 0.05, 0.0,
    -0.05, -0.1, -0.15, -0.1, -0.25, -0.4, -0.2, 0.1, 0.15, 0.05,
    -0.1, 0.05, 0.1, -0.1, -0.2, -0.05, 0.05, 0.0, -0.05, 0.0,
    0.05, 0.02, 0.0, 0.03, -0.02, 0.0, 0.02, 0.0, -0.02, 0.0,
    0.02, 0.0, 0.05, 0.15, 0.2, 0.05, 0.1, 0.0, 0.15, 0.15,
    0.1, 0.25, 0.1, 0.0, 0.05, 0.0, 0.05, 0.0, 0.05, 0.0,
    0.0, 0.05, 0.15, 0.5, 0.95, 1.0, 0.6, -0.2, -0.9, -0.6,
    -0.3, -0.4, -0.25, -0.35,
]

# --- mode signal (0 = manual, 1 = assistance), switch times ---
t_mode = [7.6, 29.2, 45.9, 55.4, 92.6, 98.5, 147.8, 165.5, 254.9, 268.2, 348.2, 355.0]
mode = [0, 1, 0, 1, 0, 1, 0, 1, 0, 1, 0, 0]

xlim = [7.6, 354.8]
xticks = [50, 100, 150, 200, 250, 300, 350]
mode_style = (0, (7, 3, 1.5, 3))

fig = plt.figure(figsize=(10.42, 11.55), dpi=100)
ax1 = fig.add_axes([0.0912, 0.7385, 0.8935, 0.2078])
ax2 = fig.add_axes([0.0912, 0.4095, 0.8935, 0.2069])
ax3 = fig.add_axes([0.0912, 0.0805, 0.8935, 0.2069])

ax1.plot(t_wheel, v_right, color=blue, lw=1.1, label='Velocity of the right wheel')
ax1.plot(t_wheel, v_left, color=orange, lw=1.1, label='Velocity of the left wheel')
ax1.set_ylim(-5, 10)
ax1.set_yticks([-5, 0, 5, 10])
ax1.set_ylabel('rad/s')
ax1.set_xlabel('Time (seconds)')

ax2.plot(t_center, v_center_est, color=blue, lw=1.0, label='Center velocity estimated')
ax2.plot(t_center, v_center_ref, color=orange, lw=1.0, label='Reference center velocity')
ax2.plot(t_mode, mode, color='red', lw=1.3, ls=mode_style, drawstyle='steps-post',
         label='Manual mode 0 and Assistance mode 1')
ax2.set_ylim(-2, 4)
ax2.set_yticks([-2, 0, 2, 4])
ax2.set_ylabel('m/s')
ax2.set_xlabel('Time (seconds)')

ax3.plot(t_yaw, w_yaw_est, color=blue, lw=1.1, label='Yaw velocity estimated')
ax3.plot(t_yaw, w_yaw_ref, color=orange, lw=1.1, label='Reference yaw velocity')
ax3.plot(t_mode, mode, color='red', lw=1.3, ls=mode_style, drawstyle='steps-post',
         label='Manual mode 0 and Assistance mode 1')
ax3.set_ylim(-4, 2)
ax3.set_yticks([-4, -2, 0, 2])
ax3.set_ylabel('rad/s')
ax3.set_xlabel('Time(Seconds)')

for ax in (ax1, ax2, ax3):
    ax.set_xlim(xlim)
    ax.set_xticks(xticks)
    ax.set_title('Time Series Plot:', fontsize=22.5, fontweight='bold', pad=7)
    ax.tick_params(direction='in', length=6, width=1, top=True, right=True,
                   labelsize=20, colors=dark)
    ax.tick_params(axis='x', pad=17)
    ax.tick_params(axis='y', pad=9)
    ax.xaxis.label.set_size(22.5)
    ax.yaxis.label.set_size(22.5)
    ax.xaxis.label.set_color(dark)
    ax.yaxis.label.set_color(dark)
    ax.xaxis.labelpad = 8
    ax.yaxis.labelpad = 5
    for s in ax.spines.values():
        s.set_color(dark)
        s.set_linewidth(1.0)

leg_kw = dict(fontsize=18.5, frameon=True, fancybox=False, framealpha=1,
              edgecolor=dark, borderpad=0.32, handlelength=3.3,
              handletextpad=0.35, labelspacing=0.32, borderaxespad=0)
l1 = ax1.legend(loc='upper right', bbox_to_anchor=(0.991, 1.221), **leg_kw)
l2 = ax2.legend(loc='upper right', bbox_to_anchor=(1.0086, 1.259), **leg_kw)
l3 = ax3.legend(loc='lower left', bbox_to_anchor=(0.030, 0.054), **leg_kw)
for lg in (l1, l2, l3):
    lg.get_frame().set_linewidth(1.0)

fig.savefig('out.png', dpi=100)
